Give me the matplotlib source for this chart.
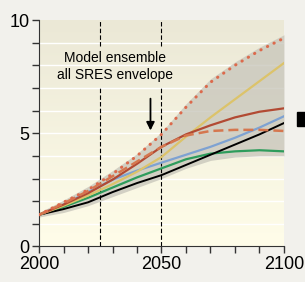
import numpy as np
import matplotlib
matplotlib.use('Agg')
import matplotlib.pyplot as plt
from matplotlib.colors import LinearSegmentedColormap

plt.rcParams['font.family'] = ['Liberation Sans', 'DejaVu Sans']

# data
years = [2000, 2010, 2020, 2030, 2040, 2050, 2060, 2070, 2080, 2090, 2100]
env_hi = [1.5, 2.05, 2.65, 3.35, 4.1, 5.05, 6.3, 7.4, 8.15, 8.8, 9.35]
env_lo = [1.3, 1.5, 1.8, 2.2, 2.6, 3.0, 3.45, 3.8, 3.95, 4.0, 4.0]
a1fi = [1.4, 1.95, 2.5, 3.2, 4.0, 4.95, 6.15, 7.25, 8.0, 8.65, 9.2]        # dotted
a1t = [1.4, 1.9, 2.45, 3.1, 3.75, 4.4, 4.9, 5.1, 5.15, 5.15, 5.1]          # dashed
a2 = [1.4, 1.85, 2.35, 2.95, 3.65, 4.4, 4.95, 5.35, 5.7, 5.95, 6.1]         # brown
a1b_like = [1.4, 1.8, 2.25, 2.75, 3.3, 3.95, 4.85, 5.7, 6.5, 7.3, 8.1]      # yellow
b2 = [1.4, 1.85, 2.4, 2.95, 3.35, 3.7, 4.05, 4.4, 4.8, 5.25, 5.75]          # blue
b1 = [1.4, 1.75, 2.15, 2.6, 3.05, 3.45, 3.85, 4.1, 4.2, 4.25, 4.2]          # green
is92a = [1.4, 1.65, 1.95, 2.4, 2.8, 3.15, 3.6, 4.05, 4.5, 4.95, 5.45]       # black
vlines_x = [2025, 2050]
marker_x, marker_y = 2108, 5.65

fig = plt.figure(figsize=(3.05, 2.82), dpi=100)
fig.patch.set_facecolor('#f2f1ec')
ax = fig.add_axes([0.128, 0.126, 0.803, 0.803])

# background gradient
cmap = LinearSegmentedColormap.from_list('bg', ['#fffde9', '#ebe8d6'])
grad = np.linspace(0, 1, 100).reshape(-1, 1)
ax.imshow(grad, extent=[2000, 2100, 0, 10], origin='lower', aspect='auto', cmap=cmap, zorder=0)
for y in range(1, 10):
	ax.axhline(y, color='white', lw=1.0, zorder=1)

ax.fill_between(years, env_lo, env_hi, color='#c9c7bc', alpha=0.8, lw=0, zorder=2)

for x in vlines_x:
	ax.plot([x, x], [0, 7.0], color='black', ls=(0, (4, 2)), lw=0.8, zorder=3)
	ax.plot([x, x], [8.85, 10], color='black', ls=(0, (4, 2)), lw=0.8, zorder=3)

ax.plot(years, b1, color='#2e9c5c', lw=1.6, zorder=4)
ax.plot(years, is92a, color='black', lw=1.4, zorder=4)
ax.plot(years, b2, color='#7ea2d2', lw=1.6, zorder=4)
ax.plot(years, a1b_like, color='#dcc36a', lw=1.6, zorder=4)
ax.plot(years, a2, color='#b24a33', lw=1.6, zorder=4)
ax.plot(years, a1t, color='#d5774f', lw=1.8, ls=(0, (4, 2)), zorder=5)
ax.plot(years, a1fi, color='#dc6a4c', lw=2.2, ls=(0, (0.1, 2.3)), dash_capstyle='round', zorder=5)

ax.text(2031, 7.95, 'Model ensemble\nall SRES envelope', ha='center', va='center',
	fontsize=10, linespacing=1.35, zorder=6)
ax.annotate('', xy=(2045.5, 5.0), xytext=(2045.5, 6.65),
	arrowprops=dict(arrowstyle='-|>', color='black', lw=1.3, mutation_scale=12), zorder=6)

ax.plot([marker_x], [marker_y], 's', color='black', ms=10, clip_on=False, zorder=6)

ax.set_xlim(2000, 2100)
ax.set_ylim(0, 10)
ax.set_xticks([2000, 2050, 2100])
ax.set_xticks(range(2000, 2101, 10), minor=True)
ax.set_yticks([0, 5, 10])
ax.set_yticks(range(0, 11), minor=True)
ax.tick_params(which='both', length=5, width=1, color='#333333', direction='out')
ax.tick_params(labelsize=13, pad=2)
for s in ['top', 'right']:
	ax.spines[s].set_visible(False)
for s in ['left', 'bottom']:
	ax.spines[s].set_color('#333333')

plt.savefig('out.png', dpi=100, facecolor=fig.get_facecolor())
